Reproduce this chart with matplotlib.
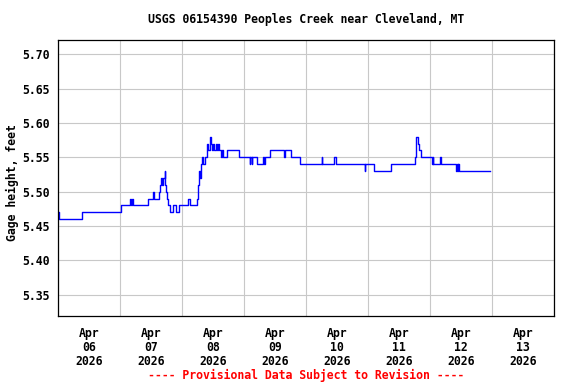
import numpy as np
import pandas as pd
import matplotlib
matplotlib.use("Agg")
import matplotlib.pyplot as plt
import matplotlib.dates as mdates

# gage height readings: hours after 2026-04-06 00:00 where the value changes
start = pd.Timestamp("2026-04-06 00:00")
hours = [0, 0.25, 9.25, 24.25, 27.75, 28.25, 28.5, 29.0, 34.75, 36.75,
         37.25, 39.25, 39.5, 39.75, 40.25, 40.75, 41.25, 41.5, 41.75, 42.25,
         42.75, 43.5, 44.5, 45.75, 47.0, 50.5, 51.0, 53.75, 54.0, 54.25,
         54.5, 54.75, 55.0, 55.25, 55.75, 56.0, 57.0, 57.5, 57.75, 58.25,
         58.75, 59.0, 59.25, 59.5, 60.0, 60.5, 61.0, 61.5, 62.0, 62.5,
         63.25, 63.5, 63.75, 65.5, 70.0, 74.25, 74.5, 75.0, 75.25, 77.0,
         79.25, 79.75, 80.0, 82.25, 87.5, 87.75, 90.0, 93.75, 102.0, 102.25,
         107.0, 107.5, 118.75, 119.0, 122.25, 129.0, 138.25, 138.5, 138.75, 139.25,
         139.75, 140.5, 144.75, 145.0, 145.25, 148.0, 148.25, 154.25, 154.5, 154.75,
         155.0, 155.25, 167.25]
gage_ft = [5.47, 5.46, 5.47, 5.48, 5.49, 5.48, 5.49, 5.48, 5.49, 5.50,
           5.49, 5.50, 5.51, 5.52, 5.51, 5.52, 5.53, 5.51, 5.50, 5.49,
           5.48, 5.47, 5.48, 5.47, 5.48, 5.49, 5.48, 5.49, 5.50, 5.51,
           5.52, 5.53, 5.52, 5.54, 5.55, 5.54, 5.55, 5.56, 5.57, 5.56,
           5.57, 5.58, 5.57, 5.56, 5.57, 5.56, 5.57, 5.56, 5.57, 5.56,
           5.55, 5.56, 5.55, 5.56, 5.55, 5.54, 5.55, 5.54, 5.55, 5.54,
           5.55, 5.54, 5.55, 5.56, 5.55, 5.56, 5.55, 5.54, 5.55, 5.54,
           5.55, 5.54, 5.53, 5.54, 5.53, 5.54, 5.55, 5.56, 5.58, 5.57,
           5.56, 5.55, 5.54, 5.55, 5.54, 5.55, 5.54, 5.53, 5.54, 5.53,
           5.54, 5.53, 5.53]
y_ticks = [5.35, 5.40, 5.45, 5.50, 5.55, 5.60, 5.65, 5.70]

times = start + pd.to_timedelta(hours, unit="h")

mono = "DejaVu Sans Mono"
fs = 8.3

fig = plt.figure(figsize=(5.76, 3.84), dpi=100)
ax = fig.add_axes([58 / 576, 1 - 316 / 384, 496 / 576, 276 / 384])

ax.step(times, gage_ft, where="post", color="#0000ff", lw=1.0)

ax.set_xlim(start, start + pd.Timedelta(days=8))
ax.set_ylim(5.3188, 5.721)

# labels at noon, grid at midnight
ax.xaxis.set_major_locator(mdates.HourLocator(byhour=[12]))
ax.xaxis.set_major_formatter(mdates.DateFormatter("%b\n%d\n%Y"))
ax.xaxis.set_minor_locator(mdates.DayLocator())
ax.set_yticks(y_ticks)
ax.yaxis.set_major_formatter(plt.FormatStrFormatter("%.2f"))

ax.grid(which="minor", axis="x", color="#c8c8c8", lw=0.8)
ax.grid(which="major", axis="y", color="#c8c8c8", lw=0.8)
ax.set_axisbelow(True)
ax.tick_params(axis="both", which="both", length=0)
ax.tick_params(axis="x", which="major", pad=8)
ax.tick_params(axis="y", pad=6)

for lab in ax.get_xticklabels():
    lab.set_fontfamily(mono)
    lab.set_fontweight("bold")
    lab.set_fontsize(fs)
    lab.set_linespacing(1.1)
for lab in ax.get_yticklabels():
    lab.set_fontfamily(mono)
    lab.set_fontweight("bold")
    lab.set_fontsize(fs)

for sp in ax.spines.values():
    sp.set_linewidth(0.9)
    sp.set_color("black")

fig.text(12 / 576, 1 - 183 / 384, "Gage height, feet", rotation=90,
         ha="center", va="center", fontfamily=mono, fontweight="bold", fontsize=fs)
fig.text(306 / 576, 1 - 20 / 384, "USGS 06154390 Peoples Creek near Cleveland, MT",
         ha="center", va="center", fontfamily=mono, fontweight="bold", fontsize=fs)
fig.text(306 / 576, 1 - 375 / 384, "---- Provisional Data Subject to Revision ----",
         ha="center", va="center", fontfamily=mono, fontweight="bold",
         fontsize=fs, color="red")

fig.savefig("out.png", dpi=100)
